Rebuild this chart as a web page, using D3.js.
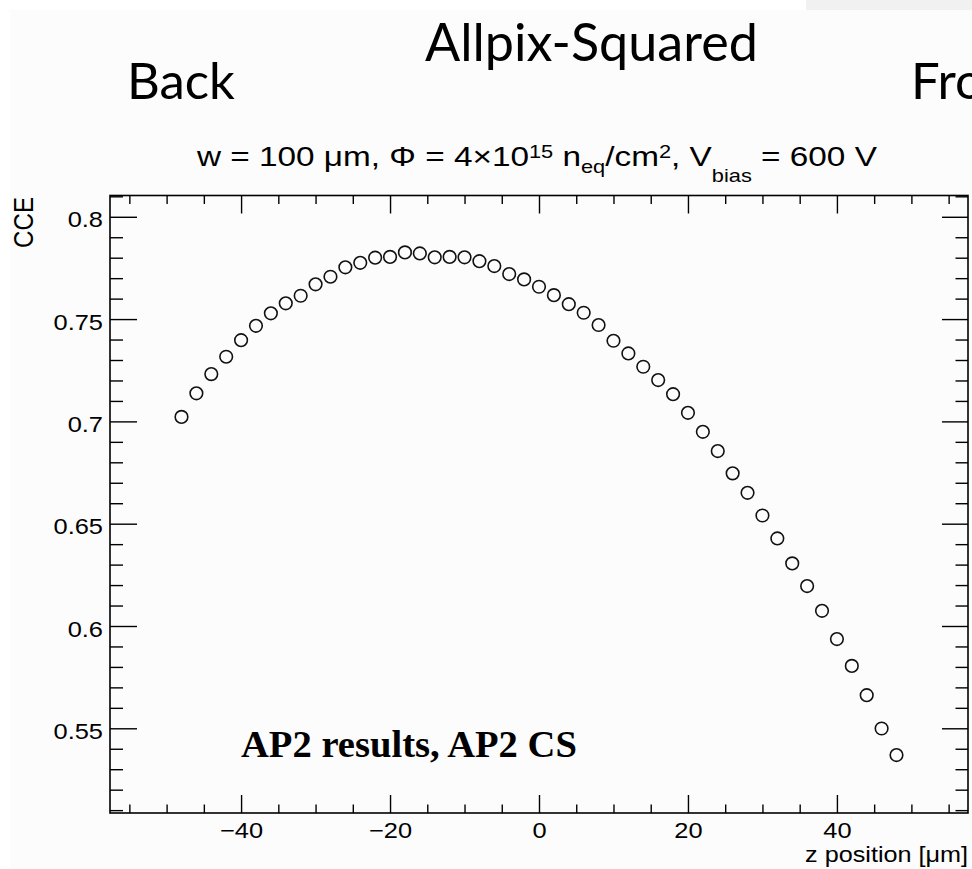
<!DOCTYPE html>
<html><head><meta charset="utf-8">
<script src="https://cdn.jsdelivr.net/npm/d3@7/dist/d3.min.js"></script>
<style>body{margin:0;background:#fff;} svg{display:block;}</style>
</head><body>
<script>
// ---- data ----
const zPosition = [-48,-46,-44,-42,-40,-38,-36,-34,-32,-30,-28,-26,-24,-22,-20,-18,-16,-14,-12,-10,-8,-6,-4,-2,0,2,4,6,8,10,12,14,16,18,20,22,24,26,28,30,32,34,36,38,40,42,44,46,48];
const cce = [0.7022,0.7137,0.7231,0.7316,0.7397,0.7467,0.7528,0.7577,0.7614,0.7670,0.7707,0.7753,0.7775,0.7800,0.7804,0.7826,0.7821,0.7802,0.7804,0.7802,0.7783,0.7759,0.7720,0.7694,0.7658,0.7617,0.7573,0.7531,0.7471,0.7394,0.7332,0.7267,0.7202,0.7133,0.7042,0.6949,0.6855,0.6746,0.6651,0.6540,0.6428,0.6306,0.6195,0.6074,0.5936,0.5805,0.5662,0.5499,0.5369];
const xMajorTicks = [-40,-20,0,20,40];
const xMinorTicks = [-55,-50,-45,-35,-30,-25,-15,-10,-5,5,10,15,25,30,35,45,50,55];
const yMajorTicks = [0.55,0.6,0.65,0.7,0.75,0.8];
const yMinorTicks = [0.51,0.52,0.53,0.54,0.56,0.57,0.58,0.59,0.61,0.62,0.63,0.64,0.66,0.67,0.68,0.69,0.71,0.72,0.73,0.74,0.76,0.77,0.78,0.79,0.81];
const xDomain = [-57.6, 57.6];
const yDomain = [0.5086, 0.8104];
const slideTitle = "Allpix-Squared";
const leftLabel = "Back";
const rightLabel = "Front";
const annotation = "AP2 results, AP2 CS";
const xTitle = "z position [μm]";
const yTitle = "CCE";

// ---- layout ----
const W = 972, H = 869;
const L = 110, R = 968, T = 195.5, B = 813;
const sansFont = "'Liberation Sans', Arial, Helvetica, sans-serif";
const sx = 1.13;

const svg = d3.select("body").append("svg").attr("width", W).attr("height", H);
svg.append("rect").attr("x",0).attr("y",0).attr("width",W).attr("height",H).attr("fill","#fff");
svg.append("rect").attr("x",10).attr("y",10).attr("width",W-10).attr("height",H-10).attr("fill","#fcfcfc");
svg.append("rect").attr("x",806).attr("y",0).attr("width",W-806).attr("height",10).attr("fill","#f1f1f1");

function fit(t, ax, width) {
  const bb = t.node().getBBox();
  const s = width / bb.width;
  t.attr("transform", `translate(${ax},0) scale(${s},1) translate(${-ax},0)`);
  return s;
}

// slide texts
const slideFont = "Lato, 'Open Sans', sans-serif";
const tTitle = svg.append("text").attr("x",425).attr("y",61).attr("font-family",slideFont).attr("font-size",52).attr("fill","#000").text(slideTitle);
fit(tTitle, 425, 333);
const tBack = svg.append("text").attr("x",127).attr("y",99).attr("font-family",slideFont).attr("font-size",51).attr("fill","#000").text(leftLabel);
const sBack = fit(tBack, 127, 108);
svg.append("text").attr("x",911).attr("y",99).attr("font-family",slideFont).attr("font-size",51).attr("fill","#000")
  .attr("transform",`translate(911,0) scale(${sBack},1) translate(-911,0)`).text(rightLabel);

// subtitle
const sub = svg.append("text").attr("x",197).attr("y",166).attr("font-family",sansFont).attr("font-size",27.5).attr("fill","#000");
sub.append("tspan").text("w = 100 μm, Φ = 4×10");
sub.append("tspan").attr("font-size",18).attr("dy",-8).text("15");
sub.append("tspan").attr("dy",8).text(" n");
sub.append("tspan").attr("font-size",18).attr("dy",7).text("eq");
sub.append("tspan").attr("dy",-7).text("/cm");
sub.append("tspan").attr("font-size",18).attr("dy",-8).text("2");
sub.append("tspan").attr("dy",8).text(", V");
sub.append("tspan").attr("font-size",18).attr("dy",16).text("bias");
sub.append("tspan").attr("dy",-16).text(" = 600 V");
fit(sub, 197, 682);

// scales
const x = d3.scaleLinear().domain(xDomain).range([L, R]);
const y = d3.scaleLinear().domain(yDomain).range([B, T]);

function styleAxis(g) {
  g.select(".domain").remove();
  g.selectAll(".tick line").attr("stroke","#000").attr("stroke-width",1.4);
  g.selectAll("text").attr("font-family",sansFont).attr("font-size",22.5).attr("fill","#000");
}

// bottom axis
svg.append("g").attr("transform",`translate(0,${B})`)
  .call(d3.axisBottom(x).tickValues(xMajorTicks).tickSize(-18).tickPadding(9.5).tickFormat(d3.format("d")))
  .call(styleAxis)
  .call(g => g.selectAll("text").attr("transform",`scale(${sx},1)`));
svg.append("g").attr("transform",`translate(0,${B})`)
  .call(d3.axisBottom(x).tickValues(xMinorTicks).tickSize(-8.5).tickFormat(""))
  .call(styleAxis);
// top axis
svg.append("g").attr("transform",`translate(0,${T})`)
  .call(d3.axisTop(x).tickValues(xMajorTicks).tickSize(-18).tickFormat(""))
  .call(styleAxis);
svg.append("g").attr("transform",`translate(0,${T})`)
  .call(d3.axisTop(x).tickValues(xMinorTicks).tickSize(-8.5).tickFormat(""))
  .call(styleAxis);
// left axis
svg.append("g").attr("transform",`translate(${L},0)`)
  .call(d3.axisLeft(y).tickValues(yMajorTicks).tickSize(-27).tickPadding(7).tickFormat(d => String(+d.toFixed(2))))
  .call(styleAxis)
  .call(g => g.selectAll("text").attr("dy","0.45em").attr("transform",`translate(-7,0) scale(${sx},1) translate(7,0)`));
svg.append("g").attr("transform",`translate(${L},0)`)
  .call(d3.axisLeft(y).tickValues(yMinorTicks).tickSize(-13).tickFormat(""))
  .call(styleAxis);
// right axis
svg.append("g").attr("transform",`translate(${R},0)`)
  .call(d3.axisRight(y).tickValues(yMajorTicks).tickSize(-26).tickFormat(""))
  .call(styleAxis);
svg.append("g").attr("transform",`translate(${R},0)`)
  .call(d3.axisRight(y).tickValues(yMinorTicks).tickSize(-12.5).tickFormat(""))
  .call(styleAxis);

// frame
svg.append("rect").attr("x",L).attr("y",T).attr("width",R-L).attr("height",B-T)
  .attr("fill","none").attr("stroke","#000").attr("stroke-width",1.6);

// axis titles
const xt = svg.append("text").attr("x",968).attr("y",862).attr("text-anchor","end")
  .attr("font-family",sansFont).attr("font-size",22.5).attr("fill","#000").text(xTitle);
fit(xt, 968, 163);
svg.append("text").attr("transform","translate(33,197) rotate(-90)").attr("text-anchor","end")
  .attr("font-family",sansFont).attr("font-size",27).attr("fill","#000")
  .attr("textLength",51).attr("lengthAdjust","spacingAndGlyphs").text(yTitle);

// data points
svg.append("g").selectAll("circle").data(d3.zip(zPosition, cce)).join("circle")
  .attr("cx", d => x(d[0])).attr("cy", d => y(d[1])).attr("r", 6.3)
  .attr("fill","none").attr("stroke","#111").attr("stroke-width",1.6);

// annotation
const ann = svg.append("text").attr("x",241).attr("y",757)
  .attr("font-family","'Liberation Serif', 'Times New Roman', serif").attr("font-weight","bold")
  .attr("font-size",37).attr("fill","#000").text(annotation);
fit(ann, 241, 336);
</script>
</body></html>
